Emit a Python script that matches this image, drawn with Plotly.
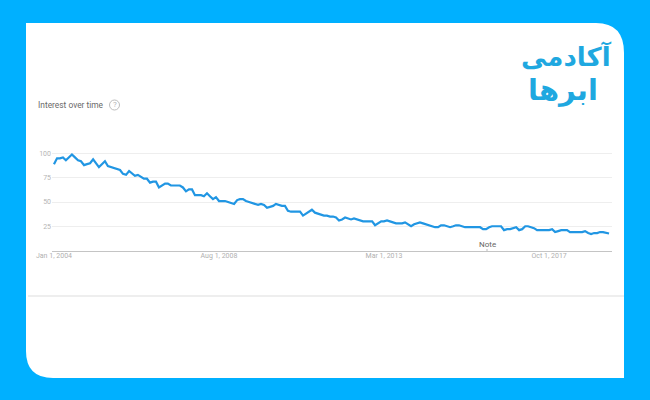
import pandas as pd
import plotly.graph_objects as go

start_month = "2004-01-01"
interest = [
    89, 95, 95, 96, 93, 96, 99, 96, 93, 92, 88, 89, 90, 94, 90, 86, 89, 92, 87, 86,
    85, 84, 83, 79, 78, 82, 80, 77, 78, 76, 74, 74, 70, 71, 71, 65, 67, 69, 69, 67,
    67, 67, 67, 65, 61, 63, 63, 57, 57, 57, 56, 59, 56, 53, 55, 51, 51, 51, 50, 49,
    48, 52, 53, 53, 51, 50, 49, 48, 47, 48, 47, 44, 45, 46, 48, 47, 46, 46, 41, 40,
    40, 40, 40, 36, 38, 40, 42, 39, 38, 37, 36, 36, 35, 35, 34, 31, 32, 34, 33, 32,
    33, 32, 31, 30, 30, 30, 30, 26, 28, 30, 30, 31, 30, 29, 28, 28, 28, 29, 27, 25,
    27, 28, 29, 28, 27, 26, 25, 24, 24, 26, 26, 25, 24, 25, 26, 26, 25, 24, 24, 24,
    24, 24, 24, 22, 22, 24, 25, 25, 25, 25, 21, 22, 22, 23, 24, 21, 22, 25, 25, 24,
    23, 21, 21, 21, 21, 21, 22, 19, 20, 21, 21, 21, 19, 19, 19, 19, 19, 20, 18, 17,
    18, 18, 19, 19, 18, 17.5,
]
months = pd.date_range(start_month, periods=len(interest), freq="MS")
x_tick_dates = ["2004-01-01", "2008-08-01", "2013-03-01", "2017-10-01"]
x_tick_labels = ["Jan 1, 2004", "Aug 1, 2008", "Mar 1, 2013", "Oct 1, 2017"]
y_ticks = [25, 50, 75, 100]

W, H = 650, 400
BLUE = "#00B0FF"


def fx(px):
    return px / W


def fy(py):
    return 1 - py / H


fig = go.Figure()
fig.add_trace(go.Scatter(
    x=months, y=interest, mode="lines",
    line=dict(color="#2196E3", width=2.2, shape="linear"),
    hoverinfo="skip", cliponaxis=False, showlegend=False,
))

# white card with two rounded corners
L, T, R, B = fx(26), fy(23), fx(624), fy(378)
panel = (
    f"M {L} {T} L {fx(596)} {T} Q {R} {T} {R} {fy(53)} "
    f"L {R} {B} L {fx(53)} {B} Q {L} {B} {L} {fy(351)} Z"
)
shapes = [
    dict(type="path", path=panel, xref="paper", yref="paper",
         fillcolor="white", line=dict(width=0), layer="below"),
    dict(type="line", xref="paper", yref="paper", x0=fx(28), x1=R, y0=fy(296), y1=fy(296),
         line=dict(color="#e9e9e9", width=1.6), layer="below"),
    dict(type="circle", xref="paper", yref="paper",
         x0=fx(109.5), x1=fx(119.5), y0=fy(110), y1=fy(100),
         line=dict(color="#bdbdbd", width=1), fillcolor="white"),
    dict(type="line", xref="paper", yref="paper", x0=fx(487), x1=fx(487), y0=fy(249), y1=fy(251),
         line=dict(color="#bbbbbb", width=1)),
]

annotations = [
    dict(text="Interest over time", x=fx(37), y=fy(105), xanchor="left", yanchor="middle",
         font=dict(family="Roboto", size=8.4, color="#6a6a6a")),
    dict(text="?", x=fx(114.5), y=fy(105), xanchor="center", yanchor="middle",
         font=dict(family="Roboto", size=8, color="#b5b5b5")),
    dict(text="Note", x=fx(487), y=fy(244), xanchor="center", yanchor="middle",
         font=dict(family="Roboto", size=8, color="#666666")),
    dict(text="<b>آکادمی</b>", x=fx(566), y=fy(56), xanchor="center", yanchor="middle",
         font=dict(family="DejaVu Sans", size=26, color="#1FA8E0")),
    dict(text="<b>ابرها</b>", x=fx(563), y=fy(90), xanchor="center", yanchor="middle",
         font=dict(family="DejaVu Sans", size=29, color="#1FA8E0")),
]
for a in annotations:
    a.update(xref="paper", yref="paper", showarrow=False, borderpad=0)

fig.update_layout(
    width=W, height=H,
    margin=dict(l=0, r=0, t=0, b=0, pad=0, autoexpand=False),
    paper_bgcolor=BLUE, plot_bgcolor="rgba(0,0,0,0)",
    shapes=shapes, annotations=annotations, showlegend=False,
    xaxis=dict(
        domain=[fx(52), fx(612)], range=["2003-12-12", "2019-07-01"], type="date",
        tickmode="array", tickvals=x_tick_dates, ticktext=x_tick_labels,
        showgrid=False, showline=True, linecolor="#c4c4c4", linewidth=1,
        ticks="", ticklen=0, zeroline=False, automargin=False, ticklabelstandoff=-2,
        tickfont=dict(family="Roboto", size=7, color="#b0b0b0"),
    ),
    yaxis=dict(
        domain=[fy(250.5), fy(151.56)], range=[0, 102],
        tickmode="array", tickvals=y_ticks, automargin=False,
        showgrid=True, gridcolor="#eeeeee", gridwidth=1,
        showline=False, zeroline=False, ticks="",
        tickfont=dict(family="Roboto", size=7, color="#b5b5b5"),
    ),
)

fig.write_html("out.html", config={"displayModeBar": False},
               post_script="document.body.style.margin='0';")
